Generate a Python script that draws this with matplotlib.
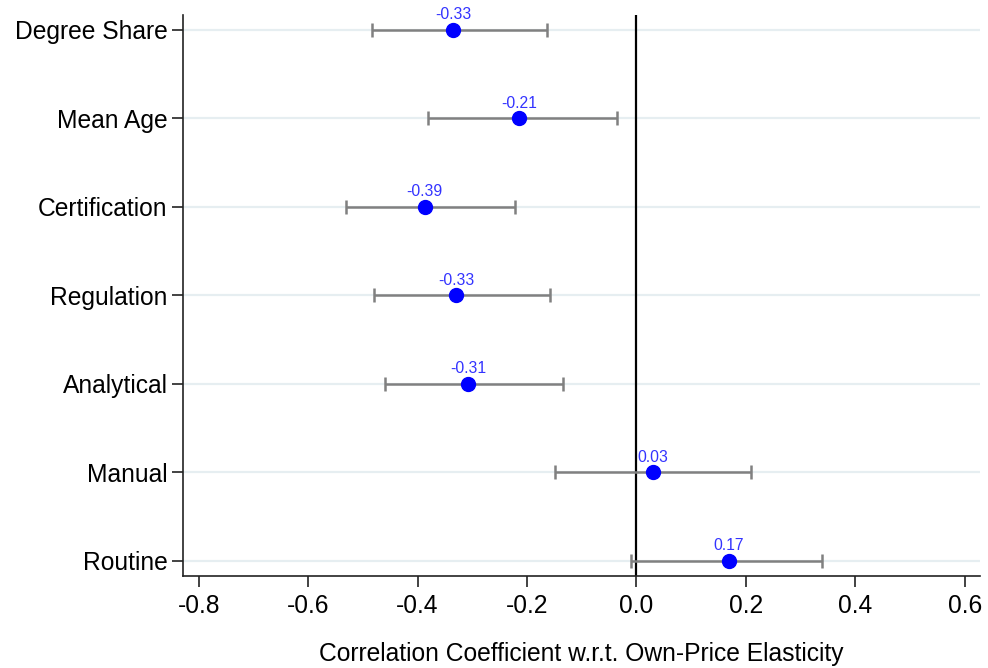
import matplotlib
matplotlib.use("Agg")
import matplotlib.pyplot as plt
import numpy as np

plt.rcParams['font.family'] = ['Liberation Sans', 'DejaVu Sans']

categories = ["Degree Share", "Mean Age", "Certification", "Regulation",
              "Analytical", "Manual", "Routine"]
coef = [-0.335, -0.215, -0.387, -0.329, -0.307, 0.030, 0.169]
ci_low = [-0.484, -0.380, -0.530, -0.480, -0.460, -0.149, -0.010]
ci_high = [-0.164, -0.036, -0.221, -0.158, -0.135, 0.209, 0.339]
labels = ["-0.33", "-0.21", "-0.39", "-0.33", "-0.31", "0.03", "0.17"]
xticks = [-0.8, -0.6, -0.4, -0.2, 0.0, 0.2, 0.4, 0.6]

fig = plt.figure(figsize=(9.88, 6.68), dpi=100)
ax = fig.add_axes([0.185, 0.1377, 0.807, 0.84])

y = np.arange(1, len(categories) + 1)
coef_a = np.array(coef)
err = [coef_a - np.array(ci_low), np.array(ci_high) - coef_a]

for yy in y:
    ax.axhline(yy, color='#e6eef1', lw=1.6, zorder=0)
ax.axvline(0, color='black', lw=1.6, zorder=1)

ax.errorbar(coef, y, xerr=err, fmt='none', ecolor='#808080', elinewidth=1.8,
            capsize=5, capthick=1.8, zorder=2)
ax.plot(coef, y, 'o', color='#0000ff', markersize=10, zorder=3)

for c, yy, t in zip(coef, y, labels):
    ax.annotate(t, (c, yy), xytext=(0, 5.5), textcoords='offset points',
                ha='center', va='bottom', color='#3333ff', fontsize=11.3)

ax.set_ylim(7.17, 0.83)
ax.set_xlim(-0.829, 0.628)
ax.set_yticks(y)
ax.set_yticklabels(categories, fontsize=17.7)
ax.set_xticks(xticks)
ax.set_xticklabels([f"{v:.1f}" for v in xticks], fontsize=17.7)
ax.tick_params(axis='both', direction='out', length=8, width=1.2, color='#222222')
ax.tick_params(axis='y', pad=3)
ax.tick_params(axis='x', pad=5)
for s in ['top', 'right']:
    ax.spines[s].set_visible(False)
for s in ['left', 'bottom']:
    ax.spines[s].set_linewidth(1.2)
    ax.spines[s].set_color('#222222')
ax.set_xlabel("Correlation Coefficient w.r.t. Own-Price Elasticity", fontsize=17.7, labelpad=17)

fig.savefig("out.png", dpi=100)
